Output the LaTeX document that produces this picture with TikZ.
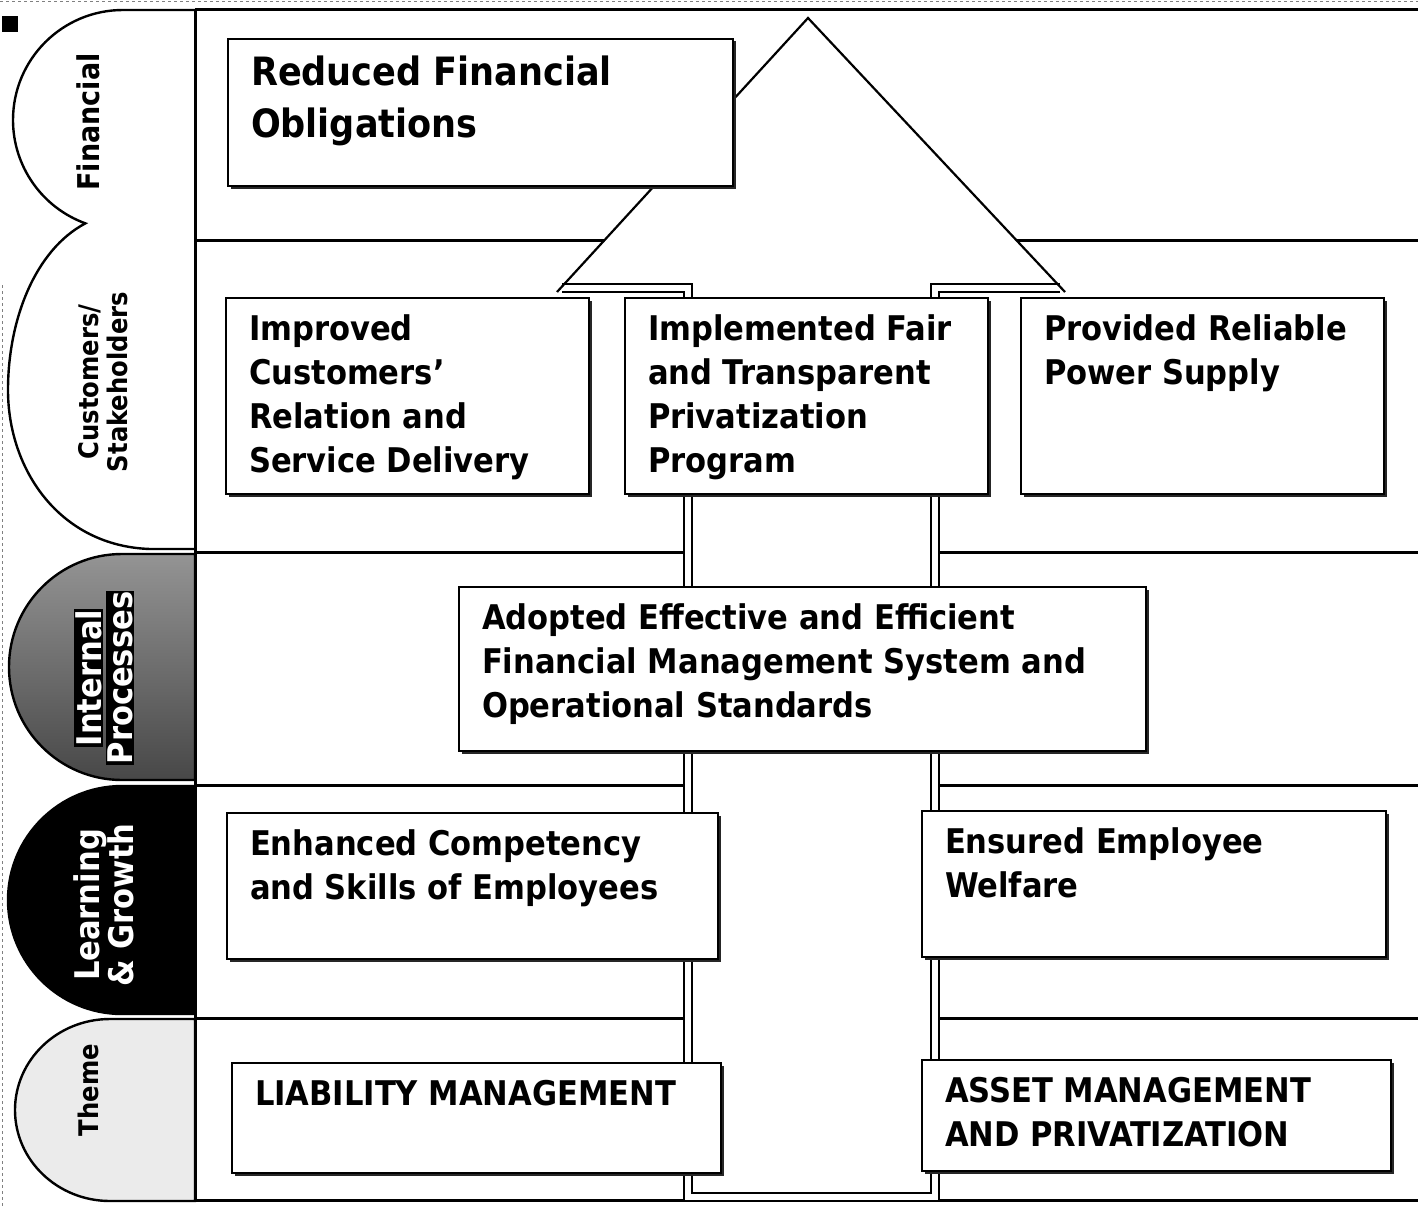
\documentclass[tikz,border=0pt]{standalone}
\usepackage{fontspec}
\setmainfont{DejaVuSansCondensed-Bold.ttf}
\usetikzlibrary{shadows}

% goal box text: width, height, text
\newcommand{\goaltext}[3]{\parbox[t][#2pt][t]{#1pt}{\raggedright\fontsize{34}{44}\selectfont #3}}

\begin{document}
\begin{tikzpicture}[x=1pt, y=-1pt,
	goal/.style={draw, fill=white, line width=2pt, anchor=north west, inner xsep=23pt, inner ysep=17pt,
		drop shadow={shadow xshift=2.5pt, shadow yshift=-2.5pt, opacity=1, fill=black!85}},
	tab/.style={draw, line width=2.4pt},
	tablabel/.style={rotate=90, font=\fontsize{27}{29}\selectfont, align=center, inner sep=0pt},
	rowline/.style={line width=3pt},
	shaft/.style={draw, line width=1.8pt, double=white, double distance=6.5pt}]
	\useasboundingbox (0,0) rectangle (1418,1207);
	\fill[white] (0,0) rectangle (1418,1207);

	% frame marks
	\draw[dashed, gray, line width=0.6pt] (0,1.5) -- (1418,1.5);
	\draw[dashed, gray, line width=0.6pt] (2.5,285) -- (2.5,1207);
	\fill (2,16) rectangle (18,32);

	% perspective tabs
	\draw[tab, fill=white] (195,10) -- (123,10) arc[start angle=270, end angle=110, radius=110]
		.. controls (35,250) and (8,320) .. (8,390) .. controls (8,470) and (60,546) .. (150,549) -- (195,549);
	\draw[tab, top color=black!42, bottom color=black!72] (195,554) -- (122,554) arc[start angle=270, end angle=90, radius=113] -- (195,780) -- cycle;
	\draw[tab, fill=black] (195,786) -- (122,786) arc[start angle=270, end angle=90, radius=114] -- (195,1014) -- cycle;
	\draw[tab, fill=black!8] (195,1019) -- (110,1019) arc[start angle=270, end angle=90, x radius=95, y radius=91] -- (195,1201) -- cycle;

	% rows
	\draw[rowline] (195,10) -- (195,1201);
	\foreach \y in {10, 240, 552, 785, 1018, 1200}
	{
		\draw[rowline] (195,\y) -- (1418,\y);
	}

	% big arrow
	\fill[white] (688,1197) -- (688,288) -- (562,288) -- (808,18) -- (1060,288) -- (935,288) -- (935,1197) -- cycle;
	\draw[shaft] (562,288) -- (688,288) -- (688,1197) -- (935,1197) -- (935,288) -- (1060,288);
	\draw[line width=2.2pt] (557,292) -- (808,18) -- (1065,292);

	% objectives
	\node[goal] (reduced) at (227,38) {\parbox[t][113pt][t]{459pt}{\raggedright\fontsize{39}{52}\selectfont Reduced Financial\\Obligations}};
	\node[goal] (improved) at (225,297) {\goaltext{317}{162}{Improved\\Customers'\\Relation and\\Service Delivery}};
	\node[goal] (implemented) at (624,297) {\goaltext{317}{162}{Implemented Fair\\and Transparent\\Privatization\\Program}};
	\node[goal] (provided) at (1020,297) {\goaltext{317}{162}{Provided Reliable\\Power Supply}};
	\node[goal] (adopted) at (458,586) {\goaltext{641}{130}{Adopted Effective and Efficient\\Financial Management System and\\Operational Standards}};
	\node[goal] (enhanced) at (226,812) {\goaltext{445}{112}{Enhanced Competency\\and Skills of Employees}};
	\node[goal] (ensured) at (921,810) {\goaltext{418}{112}{Ensured Employee\\Welfare}};
	\node[goal] (liability) at (231,1062) {\goaltext{443}{76}{LIABILITY MANAGEMENT}};
	\node[goal] (asset) at (921,1059) {\goaltext{423}{77}{ASSET MANAGEMENT\\AND PRIVATIZATION}};

	% tab labels
	\node[tablabel, font=\fontsize{30}{30}\selectfont] (financial) at (88,122) {Financial};
	\node[tablabel] (customers) at (103,382) {Customers/\\Stakeholders};
	\node[tablabel, font=\fontsize{34}{31}\selectfont, text=white] (internal) at (104,678) {\setlength{\fboxsep}{1pt}\colorbox{black}{Internal}\\\setlength{\fboxsep}{1pt}\colorbox{black}{Processes}};
	\node[tablabel, font=\fontsize{34}{31}\selectfont, text=white] (learning) at (104,905) {Learning\\\& Growth};
	\node[tablabel] (theme) at (88,1090) {Theme};
\end{tikzpicture}
\end{document}
